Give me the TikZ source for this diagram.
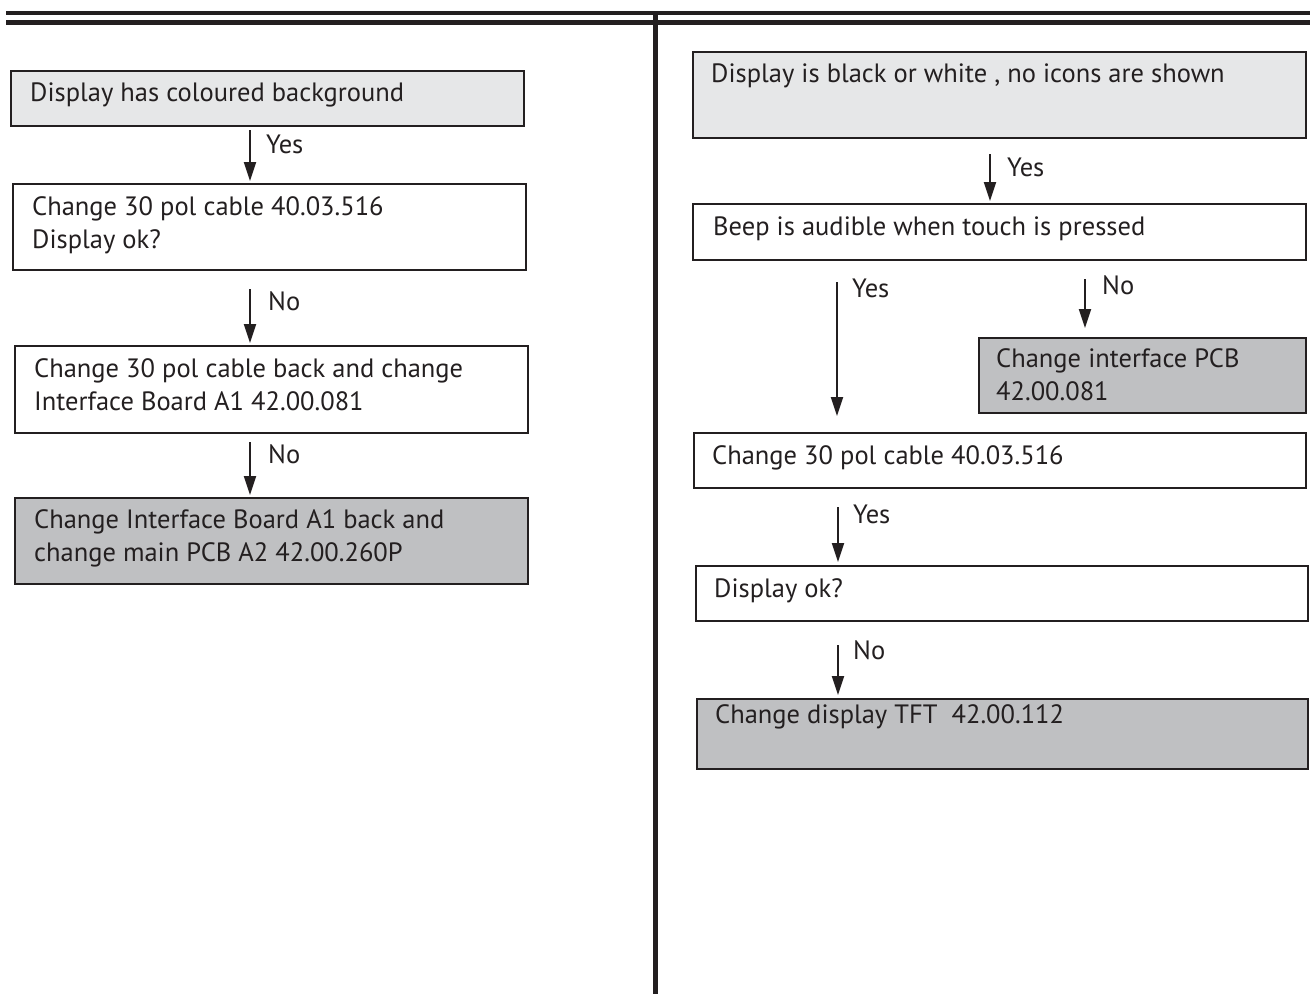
\documentclass[tikz,border=0pt]{standalone}
\usepackage{fontspec}
\setmainfont{PT Sans}
\usetikzlibrary{arrows.meta,calc}

\definecolor{ink}{HTML}{231F20}
\definecolor{paleGrey}{HTML}{E6E7E8}
\definecolor{midGrey}{HTML}{BFC0C2}

\tikzset{
  boxbase/.style={draw=ink, line width=2.4pt, rectangle, inner sep=0pt, anchor=north west},
  whitebox/.style={boxbase, fill=white},
  palebox/.style={boxbase, fill=paleGrey},
  greybox/.style={boxbase, fill=midGrey},
  % multi-line texts are placed by the baseline of their last line
  boxtext/.style={anchor=base west, inner sep=0pt, text=ink, align=left,
    font=\fontsize{26.5}{33}\selectfont},
  answer/.style={anchor=base west, inner sep=0pt, text=ink,
    font=\fontsize{26.5}{33}\selectfont},
  flow/.style={draw=ink, line width=2pt, -{Triangle[width=12pt,length=19pt]}},
  rule/.style={draw=ink, line cap=butt}
}

\begin{document}
\begin{tikzpicture}[x=1pt,y=-1pt]
\useasboundingbox (0,0) rectangle (1313,994);

% header rules and column divider
\draw[rule, line width=4.6pt] (6,13) -- (1310,13);
\draw[rule, line width=5pt] (6,22.5) -- (1310,22.5);
\draw[rule, line width=5.6pt] (655.5,11) -- (655.5,994);

% left column
\node[palebox, minimum width=513, minimum height=55] (b1) at (10,70) {};
\node[boxtext] (t1) at (30,101) {Display has coloured background};

\node[whitebox, minimum width=513, minimum height=86] (b2) at (12,183) {};
\node[boxtext] (t2) at (32,248) {Change 30 pol cable 40.03.516\\Display ok?};

\node[whitebox, minimum width=513, minimum height=87] (b3) at (14,345) {};
\node[boxtext] (t3) at (34,410) {Change 30 pol cable back and change\\Interface Board A1 42.00.081};

\node[greybox, minimum width=513, minimum height=86] (b4) at (14,497) {};
\node[boxtext] (t4) at (34,561) {Change Interface Board A1 back and\\change main PCB A2 42.00.260P};

\draw[flow] ($(b1.south west)+(240,3)$) -- ($(b2.north west)+(238,-2)$);
\node[answer] (a1) at (266,153) {Yes};
\draw[flow] ($(b2.south west)+(238,18)$) -- ($(b3.north west)+(236,-2)$);
\node[answer] (a2) at (268,310) {No};
\draw[flow] ($(b3.south west)+(236,8)$) -- ($(b4.north west)+(236,-2)$);
\node[answer] (a3) at (268,463) {No};

% right column
\node[palebox, minimum width=613, minimum height=86] (r1) at (692,51) {};
\node[boxtext] (s1) at (711,82) {Display is black or white , no icons are shown};

\node[whitebox, minimum width=613, minimum height=56] (r2) at (692,203) {};
\node[boxtext] (s2) at (713,235) {Beep is audible when touch is pressed};

\node[greybox, minimum width=327, minimum height=75] (r3) at (978,337) {};
\node[boxtext] (s3) at (996,400) {Change interface PCB\\42.00.081};

\node[whitebox, minimum width=612, minimum height=55] (r4) at (693,432) {};
\node[boxtext] (s4) at (712,464) {Change 30 pol cable 40.03.516};

\node[whitebox, minimum width=612, minimum height=55] (r5) at (695,565) {};
\node[boxtext] (s5) at (714,597) {Display ok?};

\node[greybox, minimum width=611, minimum height=70] (r6) at (696,698) {};
\node[boxtext] (s6) at (715,723) {Change display TFT\ \ 42.00.112};

\draw[flow] ($(r1.south west)+(298,15)$) -- ($(r2.north west)+(298,-2)$);
\node[answer] (c1) at (1007,176) {Yes};
\draw[flow] ($(r2.south west)+(145,21)$) -- ($(r4.north west)+(144,-16)$);
\node[answer] (c2) at (852,297) {Yes};
\draw[flow] ($(r2.south west)+(393,18)$) -- ($(r3.north west)+(107,-9)$);
\node[answer] (c3) at (1102,294) {No};
\draw[flow] ($(r4.south west)+(145,18)$) -- ($(r5.north west)+(143,-3)$);
\node[answer] (c4) at (853,523) {Yes};
\draw[flow] ($(r5.south west)+(143,23)$) -- ($(r6.north west)+(142,-3)$);
\node[answer] (c5) at (853,659) {No};
\end{tikzpicture}
\end{document}
